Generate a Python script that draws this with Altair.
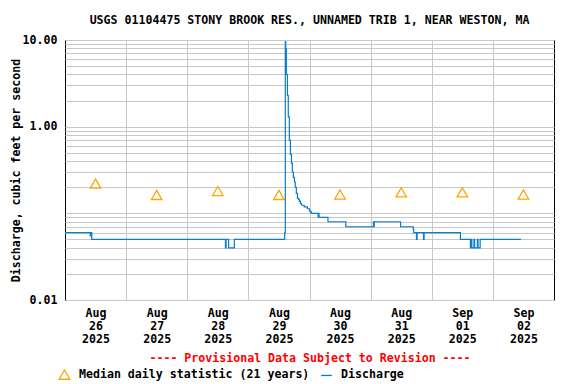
import altair as alt
import pandas as pd

FONT = "DejaVu Sans Mono"
FS = 11.6
TITLE = "USGS 01104475 STONY BROOK RES., UNNAMED TRIB 1, NEAR WESTON, MA"
Y_TITLE = "Discharge, cubic feet per second"
X_TITLE = "---- Provisional Data Subject to Revision ----"
MEDIAN_NAME = "Median daily statistic (21 years)"
Q_NAME = "Discharge"

START = "2025-08-26 00:00"
END = "2025-09-03 00:00"

tick_month = ["Aug", "Aug", "Aug", "Aug", "Aug", "Aug", "Sep", "Sep"]
tick_day = ["26", "27", "28", "29", "30", "31", "01", "02"]
tick_year = ["2025", "2025", "2025", "2025", "2025", "2025", "2025", "2025"]

median_times = ["2025-08-26 12:00", "2025-08-27 12:00", "2025-08-28 12:00", "2025-08-29 12:00",
                "2025-08-30 12:00", "2025-08-31 12:00", "2025-09-01 12:00", "2025-09-02 12:00"]
median_values = [0.22, 0.163, 0.181, 0.163, 0.165, 0.175, 0.175, 0.165]

q_times = [
    "2025-08-26 00:00", "2025-08-26 09:55", "2025-08-26 10:20", "2025-08-26 10:30",
    "2025-08-28 15:00", "2025-08-28 15:15", "2025-08-28 16:15", "2025-08-28 18:30",
    "2025-08-29 14:15", "2025-08-29 14:30", "2025-08-29 14:40", "2025-08-29 14:55",
    "2025-08-29 15:20", "2025-08-29 15:40", "2025-08-29 16:05", "2025-08-29 16:30",
    "2025-08-29 16:55", "2025-08-29 17:15", "2025-08-29 17:40", "2025-08-29 18:05",
    "2025-08-29 18:25", "2025-08-29 18:50", "2025-08-29 19:15", "2025-08-29 19:40",
    "2025-08-29 20:00", "2025-08-29 20:25", "2025-08-29 20:50", "2025-08-29 21:55",
    "2025-08-29 23:10", "2025-08-30 00:00", "2025-08-30 00:20", "2025-08-30 00:45",
    "2025-08-30 03:25", "2025-08-30 03:35", "2025-08-30 03:45", "2025-08-30 07:15",
    "2025-08-30 14:15", "2025-08-31 01:05", "2025-08-31 01:15", "2025-08-31 01:25",
    "2025-08-31 11:45", "2025-08-31 16:45", "2025-08-31 16:55", "2025-08-31 18:00",
    "2025-08-31 18:15", "2025-08-31 20:45", "2025-08-31 21:00", "2025-09-01 11:15",
    "2025-09-01 15:10", "2025-09-01 15:35", "2025-09-01 15:45", "2025-09-01 16:35",
    "2025-09-01 16:50", "2025-09-01 17:55", "2025-09-01 18:10", "2025-09-01 19:00",
    "2025-09-02 11:00",
]
q_values = [
    0.06, 0.055, 0.06, 0.05,
    0.04, 0.05, 0.04, 0.05,
    0.06, 9.6, 7.9, 4.0,
    2.3, 1.3, 0.70, 0.48,
    0.38, 0.30, 0.26, 0.23,
    0.20, 0.17, 0.15, 0.145,
    0.138, 0.13, 0.124, 0.119,
    0.113, 0.107, 0.104, 0.10,
    0.09, 0.10, 0.09, 0.08,
    0.07, 0.08, 0.07, 0.08,
    0.07, 0.065, 0.06, 0.05,
    0.06, 0.05, 0.06, 0.05,
    0.04, 0.05, 0.04, 0.05,
    0.04, 0.05, 0.04, 0.05,
    0.05,
]

y_grid = [round(m * 10.0 ** e, 3) for e in range(-2, 1) for m in range(1, 10)] + [10.0]
y_labeled = [0.01, 1.0, 10.0]

t0 = pd.Timestamp(START)
day = pd.Timedelta(days=1)
n_days = (pd.Timestamp(END) - t0) / day


def to_days(ts):
    return [(pd.Timestamp(s) - t0) / day for s in ts]


df_q = pd.DataFrame({"t": to_days(q_times), "value": q_values, "series": Q_NAME})
df_m = pd.DataFrame({"t": to_days(median_times), "value": median_values, "series": MEDIAN_NAME})

x_vals = sorted([i + 0.5 for i in range(int(n_days))] + [float(i) for i in range(1, int(n_days))])


def js_list(items):
    return "[" + ",".join("'" + s + "'" for s in items) + "]"


x_label_expr = (
    "datum.value % 1 != 0 ? ["
    + js_list(tick_month) + "[floor(datum.value)],"
    + js_list(tick_day) + "[floor(datum.value)],"
    + js_list(tick_year) + "[floor(datum.value)]] : ''"
)
y_label_expr = (
    "indexof([" + ",".join(str(v) for v in y_labeled) + "], datum.value) >= 0 ? format(datum.value, '.2f') : ''"
)

x_enc = alt.X(
    "t:Q",
    scale=alt.Scale(domain=[0, n_days], nice=False, zero=False),
    axis=alt.Axis(
        values=x_vals,
        labelExpr=x_label_expr,
        gridOpacity={"condition": {"test": "datum.value % 1 != 0", "value": 0}, "value": 1},
        ticks=False,
        tickSize=0,
        domain=False,
        labelOverlap=False,
        labelFlush=False,
        labelPadding=7,
        labelLineHeight=13,
        labelBaseline="top",
        title=X_TITLE,
        titleColor="#ff0000",
        titlePadding=8,
    ),
)
y_enc = alt.Y(
    "value:Q",
    scale=alt.Scale(type="log", domain=[0.01, 10], nice=False),
    axis=alt.Axis(
        values=y_grid,
        labelExpr=y_label_expr,
        ticks=False,
        tickSize=0,
        domain=False,
        labelOverlap=False,
        labelFlush=False,
        labelPadding=8,
        labelBaseline="middle",
        title=Y_TITLE,
        titlePadding=1,
    ),
)

domain = [MEDIAN_NAME, Q_NAME]
color_scale = alt.Scale(domain=domain, range=["#ffa500", "#0a7ccc"])
shape_scale = alt.Scale(domain=domain, range=["triangle-up", "stroke"])
legend = alt.Legend(
    title=None,
    orient="none",
    legendX=-7,
    legendY=328,
    direction="horizontal",
    padding=0,
    symbolSize=115,
    symbolStrokeWidth=1.3,
    labelOffset=8,
    columnPadding=8,
    labelLimit=400,
    labelFont=FONT,
    labelFontSize=FS,
    labelFontWeight="bold",
    labelColor="black",
)

line = alt.Chart(df_q).mark_line(interpolate="step-after", strokeWidth=1.2).encode(
    x=x_enc,
    y=y_enc,
    color=alt.Color("series:N", scale=color_scale, legend=legend),
)
points = alt.Chart(df_m).mark_point(filled=False, size=110, strokeWidth=1.3, opacity=1).encode(
    x=x_enc,
    y=y_enc,
    color=alt.Color("series:N", scale=color_scale, legend=legend),
    shape=alt.Shape("series:N", scale=shape_scale, legend=legend),
)

chart = (
    alt.layer(points, line)
    .properties(
        width=489,
        height=260,
        autosize=alt.AutoSizeParams(type="none"),
        padding={"left": 57, "top": 32, "right": 14, "bottom": 86},
        background="white",
        title=alt.TitleParams(
            TITLE, font=FONT, fontSize=FS, fontWeight="bold", anchor="middle", offset=7, color="black"
        ),
    )
    .configure_view(stroke="black", strokeWidth=1)
    .configure_axis(
        labelFont=FONT,
        labelFontSize=FS,
        labelFontWeight="bold",
        labelColor="black",
        titleFont=FONT,
        titleFontSize=FS,
        titleFontWeight="bold",
        titleColor="black",
        gridColor="#c8c8c8",
        gridWidth=1,
    )
)

chart.save("out.html", embed_options={"renderer": "svg", "actions": False})
